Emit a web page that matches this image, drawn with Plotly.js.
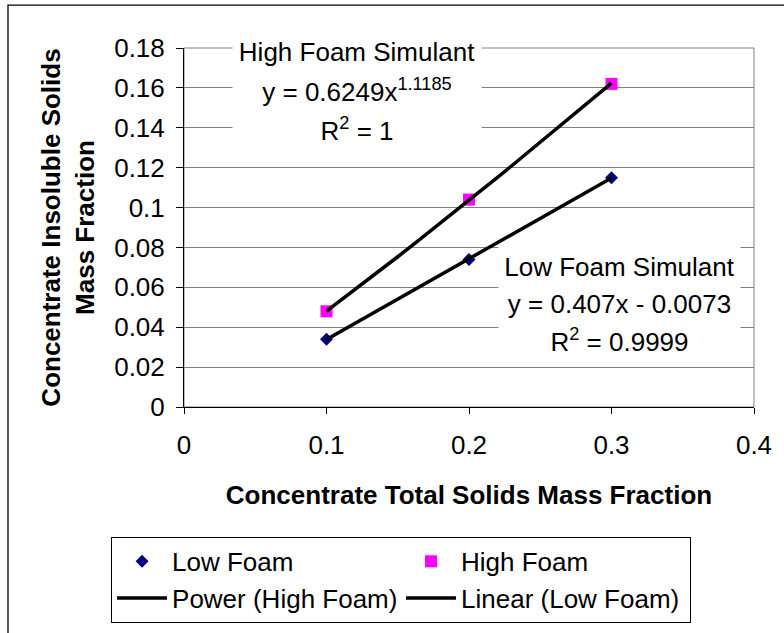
<!DOCTYPE html>
<html>
<head>
<meta charset="utf-8">
<script src="https://cdn.plot.ly/plotly-3.0.1.min.js"></script>
<style>html,body{margin:0;padding:0;background:#fff;}#chart{width:784px;height:633px;}</style>
</head>
<body>
<div id="chart"></div>
<script>
// ---- data ----
const totalSolids = [0.1, 0.2, 0.3];
const lowFoam = [0.034, 0.074, 0.115];
const highFoam = [0.048, 0.104, 0.162];
const xTicks = [0, 0.1, 0.2, 0.3, 0.4];
const yTicks = [0, 0.02, 0.04, 0.06, 0.08, 0.1, 0.12, 0.14, 0.16, 0.18];
const highLabel = ["High Foam Simulant", "y = 0.6249x<sup>1.1185</sup>", "R<sup>2</sup> = 1"];
const lowLabel = ["Low Foam Simulant", "y = 0.407x - 0.0073", "R<sup>2</sup> = 0.9999"];

// ---- trendlines fitted from the data (least squares, like the spreadsheet) ----
function linFit(xs, ys) {
  const n = xs.length;
  const mx = xs.reduce((a, b) => a + b, 0) / n;
  const my = ys.reduce((a, b) => a + b, 0) / n;
  let sxy = 0, sxx = 0;
  for (let i = 0; i < n; i++) { sxy += (xs[i] - mx) * (ys[i] - my); sxx += (xs[i] - mx) ** 2; }
  const m = sxy / sxx;
  return { m: m, b: my - m * mx };
}
const lin = linFit(totalSolids, lowFoam);
const pw = linFit(totalSolids.map(Math.log), highFoam.map(Math.log));
const xMin = Math.min(...totalSolids), xMax = Math.max(...totalSolids);
const nFit = 21;
const fitX = [];
for (let i = 0; i < nFit; i++) fitX.push(xMin + (xMax - xMin) * i / (nFit - 1));
const linY = fitX.map(x => lin.m * x + lin.b);
const powY = fitX.map(x => Math.exp(pw.b) * Math.pow(x, pw.m));

const FONT = "Liberation Sans, Arial, sans-serif";
const traces = [
  { x: totalSolids, y: lowFoam, name: "Low Foam", type: "scatter", mode: "markers",
    marker: { symbol: "diamond", color: "#000080", size: 10 } },
  { x: totalSolids, y: highFoam, name: "High Foam", type: "scatter", mode: "markers",
    marker: { symbol: "square", color: "#FF00FF", size: 12 } },
  { x: fitX, y: powY, name: "Power (High Foam)", type: "scatter", mode: "lines",
    line: { color: "#000000", width: 3.5 } },
  { x: fitX, y: linY, name: "Linear (Low Foam)", type: "scatter", mode: "lines",
    line: { color: "#000000", width: 3.5 } }
];

function labelBlock(lines, xc, yTopLine, step, w) {
  return lines.map((t, i) => ({
    text: t, xref: "x", yref: "y", x: xc, y: yTopLine - i * step,
    showarrow: false, xanchor: "center", yanchor: "middle",
    width: w, height: 39, bgcolor: "#ffffff", borderpad: 0,
    font: { family: FONT, size: 26, color: "#000" }
  }));
}
const annotations = []
  .concat(labelBlock(highLabel, 0.1215, 0.178, 0.0195, 248))
  .concat(labelBlock(lowLabel, 0.3053, 0.0705, 0.0185, 241));

const layout = {
  width: 784, height: 633,
  margin: { l: 184, r: 30, t: 48, b: 225 },
  paper_bgcolor: "#ffffff", plot_bgcolor: "#ffffff",
  font: { family: FONT, size: 26, color: "#000" },
  showlegend: true,
  xaxis: {
    range: [0, 0.4], tickvals: xTicks, ticktext: xTicks.map(String),
    showgrid: false, zeroline: false, showline: true, linecolor: "#000", linewidth: 1,
    ticks: "outside", ticklen: 6, tickcolor: "#000", ticklabelstandoff: 9,
    tickfont: { family: FONT, size: 26, color: "#000" },
    title: { text: "<b>Concentrate Total Solids Mass Fraction</b>", font: { family: FONT, size: 26, color: "#000" }, standoff: 26 }
  },
  yaxis: {
    range: [0, 0.18], tickvals: yTicks, ticktext: yTicks.map(String),
    showgrid: true, gridcolor: "#808080", gridwidth: 1, zeroline: false,
    showline: true, linecolor: "#000", linewidth: 1,
    ticks: "outside", ticklen: 7, tickcolor: "#000", ticklabelstandoff: 6,
    tickfont: { family: FONT, size: 26, color: "#000" },
    title: { text: "<b>Concentrate Insoluble Solids<br>Mass Fraction</b>", font: { family: FONT, size: 26, color: "#000" }, standoff: 12 }
  },
  legend: {
    orientation: "h", x: -0.128, y: -0.358, xanchor: "left", yanchor: "top",
    bgcolor: "#ffffff", bordercolor: "#000", borderwidth: 1,
    font: { family: FONT, size: 26, color: "#000" },
    entrywidth: 224, entrywidthmode: "pixels", itemwidth: 50,
    traceorder: "normal"
  },
  shapes: [
    { type: "rect", xref: "paper", yref: "paper", x0: 0, x1: 1, y0: 0, y1: 1,
      line: { color: "#808080", width: 1 }, layer: "below" },
    { type: "rect", xref: "paper", yref: "paper", x0: -0.3088, x1: 1.1, y0: -0.7, y1: 1.1194,
      line: { color: "#000", width: 1.3 }, layer: "below" }
  ],
  annotations: annotations
};

Plotly.newPlot("chart", traces, layout, { displayModeBar: false, staticPlot: true });
</script>
</body>
</html>
